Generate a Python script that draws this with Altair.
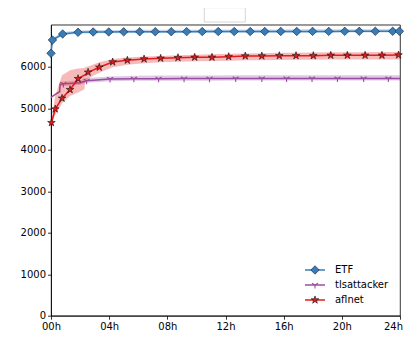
import altair as alt
import pandas as pd

# ---------------- data ----------------
etf_hours = [0.0, 0.1, 0.8, 1.86, 2.9, 3.97, 5.0, 6.1, 7.17, 8.27, 9.33, 10.4, 11.5,
             12.6, 13.7, 14.7, 15.8, 16.9, 17.99, 19.1, 20.2, 21.2, 22.3, 23.5, 23.96]
etf_mean = [6327, 6648, 6793, 6834, 6841, 6843, 6845, 6847, 6848, 6849, 6850, 6851, 6852,
            6853, 6853, 6854, 6855, 6855, 6856, 6856, 6857, 6857, 6858, 6858, 6858]
etf_lo = [6300, 6610, 6760, 6800, 6808, 6810, 6812, 6814, 6815, 6816, 6817, 6818, 6819,
          6820, 6820, 6821, 6822, 6823, 6824, 6825, 6826, 6827, 6828, 6829, 6830]
etf_hi = [6360, 6690, 6840, 6880, 6888, 6890, 6892, 6894, 6896, 6897, 6898, 6899, 6900,
          6901, 6902, 6903, 6904, 6905, 6906, 6907, 6908, 6909, 6910, 6911, 6912]
etf_mark = [True] * len(etf_hours)

tls_hours = [0.0, 0.4, 0.6, 0.62, 0.85, 2.0, 2.45, 4.06, 5.7, 7.4, 9.15, 10.9, 12.7,
             14.5, 16.2, 17.95, 19.7, 21.5, 23.2, 24.0]
tls_mean = [5267, 5363, 5400, 5580, 5590, 5618, 5667, 5708, 5715, 5716, 5717, 5717, 5718,
            5718, 5718, 5718, 5718, 5718, 5718, 5718]
tls_lo = [5257, 5353, 5390, 5530, 5540, 5570, 5620, 5655, 5665, 5667, 5668, 5668, 5669,
          5669, 5669, 5670, 5670, 5670, 5670, 5670]
tls_hi = [5277, 5373, 5410, 5640, 5650, 5680, 5730, 5770, 5785, 5790, 5792, 5794, 5795,
          5796, 5797, 5798, 5798, 5799, 5800, 5800]
tls_mark = [False, False, False, False, True, False, True, True, True, True, True, True, True,
            True, True, True, True, True, True, False]

afl_hours = [0.03, 0.29, 0.76, 1.31, 1.86, 2.3, 2.35, 2.55, 3.32, 4.24, 5.25, 6.40, 7.54, 8.73, 9.88,
             11.07, 12.22, 13.36, 14.5, 15.7, 16.85, 18.04, 19.24, 20.38, 21.6, 22.76, 23.9, 24.0]
afl_mean = [4654, 4984, 5242, 5450, 5715, 5800, 5810, 5869, 5990, 6118, 6159, 6190, 6207, 6221, 6231,
            6231, 6246, 6262, 6262, 6270, 6270, 6270, 6279, 6279, 6279, 6279, 6286, 6286]
afl_lo = [4620, 4840, 5120, 5300, 5380, 5460, 5640, 5720, 5860, 5990, 6050, 6090, 6110, 6125, 6135,
          6140, 6150, 6160, 6162, 6168, 6170, 6172, 6175, 6176, 6177, 6178, 6178, 6178]
afl_hi = [4720, 5300, 5800, 5920, 5960, 5975, 5990, 6010, 6110, 6190, 6225, 6250, 6265, 6280, 6295,
          6305, 6315, 6325, 6330, 6338, 6342, 6346, 6350, 6352, 6354, 6356, 6356, 6356]
afl_mark = [True, True, True, True, True, False, False] + [True] * 20 + [False]

x_ticks = [0, 4, 8, 12, 16, 20, 24]
y_ticks = [0, 1000, 2000, 3000, 4000, 5000, 6000]

names = ["ETF", "tlsattacker", "aflnet"]
colors = ["#377eb8", "#984ea3", "#e41a1c"]

STAR = ("M0,-1L0.2245,-0.309L0.951,-0.309L0.363,0.118L0.588,0.809L0,0.382"
        "L-0.588,0.809L-0.363,0.118L-0.951,-0.309L-0.2245,-0.309Z")
TRI_DOWN = "M0,0L0,1M0,0L-0.866,-0.5M0,0L0.866,-0.5"

series = [
    (etf_hours, etf_mean, etf_lo, etf_hi, etf_mark),
    (tls_hours, tls_mean, tls_lo, tls_hi, tls_mark),
    (afl_hours, afl_mean, afl_lo, afl_hi, afl_mark),
]
marker_styles = [
    dict(shape="diamond", filled=True, fill=colors[0], stroke="#1a1a2e", strokeWidth=0.6, size=72, opacity=1),
    dict(shape=TRI_DOWN, filled=False, stroke=colors[1], strokeWidth=1.1, size=50, opacity=1),
    dict(shape=STAR, filled=True, fill=colors[2], stroke="#111111", strokeWidth=0.6, size=64, opacity=1),
]

W, H = 349, 291
xs = alt.Scale(domain=[0, 24], nice=False, zero=False)
ys = alt.Scale(domain=[0, 7017], nice=False)

xaxis = alt.Axis(values=x_ticks, labelExpr="format(datum.value, '02d') + 'h'", title=None,
                 labelFlush=False, labelOverlap=False,
                 labelOffset=alt.ExprRef(expr="datum.value == 24 ? -7 : 0"))
yaxis = alt.Axis(values=y_ticks, format="d", title=None, labelFlush=False, labelOverlap=False)

layers = []
for i, (h, m, lo, hi, mk) in enumerate(series):
    df = pd.DataFrame({"hours": h, "mean": m, "lo": lo, "hi": hi, "mark": mk})
    base = alt.Chart(df)
    band = base.mark_area(color=colors[i], opacity=0.3).encode(
        x=alt.X("hours:Q", scale=xs, axis=xaxis),
        y=alt.Y("lo:Q", scale=ys, axis=yaxis),
        y2="hi:Q",
    )
    line = base.mark_line(color=colors[i], strokeWidth=1.5).encode(
        x=alt.X("hours:Q", scale=xs),
        y=alt.Y("mean:Q", scale=ys),
    )
    pts = base.transform_filter("datum.mark").mark_point(**marker_styles[i]).encode(
        x=alt.X("hours:Q", scale=xs),
        y=alt.Y("mean:Q", scale=ys),
    )
    layers += [band, line, pts]

# legend (drawn manually, matplotlib style)
one = pd.DataFrame({"a": [0]})
leg_rows = [245.3, 260.3, 275.3]
for i, name in enumerate(names):
    yv = leg_rows[i]
    layers.append(alt.Chart(one).mark_rule(color=colors[i], strokeWidth=1.5).encode(
        x=alt.value(254), x2=alt.value(274), y=alt.value(yv)))
    layers.append(alt.Chart(one).mark_point(**marker_styles[i]).encode(
        x=alt.value(264), y=alt.value(yv)))
    layers.append(alt.Chart(one).mark_text(
        text=name, align="left", baseline="middle", font="DejaVu Sans", fontSize=10, color="black"
    ).encode(x=alt.value(284), y=alt.value(yv + 0.5)))

# empty box above the plot (as in the reference)
layers.append(alt.Chart(one).mark_rect(fill="white", stroke="#cccccc", strokeWidth=0.8).encode(
    x=alt.value(153.3), x2=alt.value(194.3), y=alt.value(-17), y2=alt.value(-2.7)))

chart = alt.layer(*layers).properties(
    width=W, height=H,
    autosize=alt.AutoSizeParams(type="none"),
    padding={"left": 43, "top": 16.7, "right": 4, "bottom": 24},
).configure_view(
    stroke="black", strokeWidth=0.8
).configure_axis(
    grid=False, domainColor="black", domainWidth=0.8, tickColor="black", tickWidth=0.8,
    tickSize=3.5, labelFont="DejaVu Sans", labelFontSize=10, labelColor="black", labelPadding=2,
)

chart.save("out.html", embed_options={"renderer": "svg", "actions": False})
